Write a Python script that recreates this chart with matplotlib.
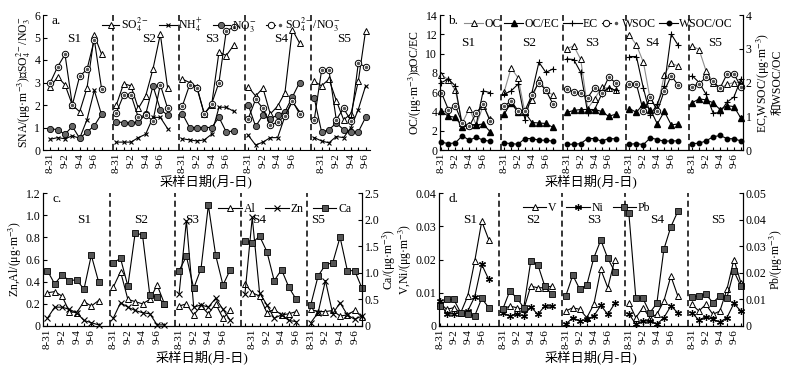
import matplotlib
matplotlib.use('Agg')
import matplotlib.pyplot as plt
from matplotlib.legend_handler import HandlerTuple

plt.rcParams['font.family'] = ['Liberation Serif', 'Noto Sans CJK SC']
plt.rcParams['mathtext.fontset'] = 'stix'
plt.rcParams['font.size'] = 8.5
plt.rcParams['axes.linewidth'] = 0.8
plt.rcParams['xtick.direction'] = 'in'
plt.rcParams['ytick.direction'] = 'in'
plt.rcParams['xtick.major.size'] = 2.5
plt.rcParams['ytick.major.size'] = 3
plt.rcParams['xtick.major.pad'] = 2
plt.rcParams['ytick.major.pad'] = 2

sites = ['S1', 'S2', 'S3', 'S4', 'S5']
date_labels = ['8-31', '9-2', '9-4', '9-6']
xlabel_text = '采样日期(月-日)'

# ---------------- panel a: SNA ----------------
so4 = [[2.8, 3.25, 2.9, 2.0, 1.7, 2.75, 5.1, 4.25],
       [2.0, 2.95, 2.85, 1.85, 2.4, 3.6, 5.15, 2.75],
       [3.15, 3.0, 2.8, 1.6, 2.0, 4.35, 4.2, 4.65],
       [2.8, 2.4, 2.75, 1.6, 1.95, 2.55, 5.35, 4.75],
       [3.05, 2.85, 3.15, 2.2, 1.35, 1.6, 3.05, 5.3]]
nh4 = [[0.48, 0.55, 0.5, 0.63, 0.52, 1.35, 2.65, 1.55],
       [0.35, 0.35, 0.35, 0.55, 0.7, 1.45, 1.45, 0.95],
       [0.5, 0.45, 0.4, 0.45, 0.7, 1.9, 1.9, 1.72],
       [0.65, 0.22, 0.35, 0.55, 0.55, 1.5, 2.15, 1.7],
       [0.55, 0.4, 0.32, 0.6, 0.55, 1.0, 1.8, 2.85]]
no3 = [[0.95, 0.9, 0.7, 1.05, 0.52, 0.8, 1.08, 1.6],
       [1.25, 1.22, 1.2, 1.25, 1.58, 2.85, 1.8, 1.55],
       [1.62, 1.0, 1.0, 1.0, 1.0, 1.45, 0.8, 0.85],
       [2.0, 1.05, 1.55, 1.4, 1.55, 1.7, 2.35, 3.0],
       [2.3, 0.8, 0.9, 1.2, 0.9, 0.8, 0.8, 1.45]]
so4_no3 = [[3.0, 3.7, 4.25, 2.0, 3.28, 3.58, 4.9, 2.7],
           [1.65, 2.45, 2.45, 1.45, 1.55, 1.3, 2.9, 1.85],
           [1.95, 2.9, 2.75, 1.6, 2.05, 3.0, 5.3, 5.45],
           [1.4, 2.25, 1.85, 1.1, 1.25, 1.5, 2.2, 1.6],
           [1.35, 3.55, 3.55, 1.35, 1.85, 1.3, 3.85, 3.7]]

# ---------------- panel b: carbon ----------------
oc = [[7.8, 7.3, 6.2, 2.8, 4.3, 2.6, 4.6, 3.2],
      [6.0, 8.5, 7.5, 3.9, 5.2, 7.4, 6.2, 5.7],
      [10.5, 10.8, 9.4, 4.3, 5.3, 6.5, 6.4, 6.2],
      [11.9, 10.9, 9.1, 5.2, 4.3, 7.8, 9.0, 8.7],
      [10.8, 10.4, 8.2, 7.0, 6.4, 6.8, 7.0, 7.0]]
oc_ec = [[4.0, 3.5, 3.4, 2.4, 2.6, 2.6, 2.7, 1.9],
         [3.7, 4.9, 3.9, 3.9, 2.85, 2.8, 2.75, 2.35],
         [3.9, 4.1, 4.2, 4.2, 4.2, 4.0, 3.5, 3.7],
         [4.3, 3.9, 4.8, 4.2, 2.7, 4.0, 2.6, 2.7],
         [4.9, 5.3, 5.2, 4.9, 4.2, 4.6, 4.5, 3.3]]
ec = [[2.0, 2.1, 1.9, 0.7, 0.75, 0.75, 1.75, 1.7],
      [1.65, 1.75, 1.95, 0.9, 1.7, 2.6, 2.3, 2.4],
      [2.7, 2.68, 2.3, 1.1, 1.2, 1.65, 1.85, 1.77],
      [2.77, 2.77, 1.83, 1.03, 1.37, 1.9, 3.43, 3.1],
      [2.2, 2.0, 1.65, 1.1, 1.1, 1.42, 1.57, 2.1]]
wsoc = [[1.7, 1.2, 1.3, 0.8, 0.7, 1.1, 1.35, 0.85],
        [1.3, 1.45, 1.17, 1.17, 1.63, 2.0, 1.77, 1.37],
        [1.8, 1.72, 1.68, 1.55, 1.85, 1.7, 2.15, 2.0],
        [1.95, 1.95, 1.15, 1.57, 1.15, 1.75, 2.2, 1.92],
        [1.88, 1.97, 2.15, 2.03, 1.83, 2.25, 2.25, 1.88]]
wsoc_oc = [[0.23, 0.19, 0.21, 0.42, 0.29, 0.38, 0.29, 0.26],
           [0.21, 0.19, 0.17, 0.34, 0.34, 0.29, 0.29, 0.26],
           [0.17, 0.17, 0.19, 0.34, 0.34, 0.26, 0.34, 0.33],
           [0.17, 0.19, 0.16, 0.36, 0.31, 0.26, 0.27, 0.27],
           [0.19, 0.2, 0.27, 0.39, 0.43, 0.34, 0.33, 0.27]]

# ---------------- panel c: crustal / Zn ----------------
al = [[0.3, 0.31, 0.27, 0.13, 0.12, 0.22, 0.18, 0.23],
      [0.35, 0.49, 0.24, 0.22, 0.2, 0.24, 0.37, 0.2],
      [0.18, 0.2, 0.1, 0.18, 0.11, 0.2, 0.07, 0.14],
      [0.38, 0.3, 0.27, 0.12, 0.15, 0.1, 0.11, 0.13],
      [0.15, 0.13, 0.13, 0.14, 0.09, 0.1, 0.14, 0.08]]
zn = [[0.07, 0.17, 0.17, 0.15, 0.12, 0.05, 0.03, 0.01],
      [0.07, 0.21, 0.17, 0.14, 0.12, 0.11, 0.01, 0.01],
      [0.29, 0.95, 0.17, 0.19, 0.17, 0.25, 0.15, 0.05],
      [0.29, 0.98, 0.3, 0.19, 0.07, 0.1, 0.05, 0.04],
      [0.03, 0.12, 0.41, 0.11, 0.21, 0.1, 0.06, 0.09]]
ca = [[1.04, 0.79, 0.96, 0.85, 0.87, 0.69, 1.33, 0.83],
      [1.19, 1.27, 0.75, 1.75, 1.71, 0.58, 0.54, 0.42],
      [1.04, 1.31, 0.71, 1.08, 2.27, 1.33, 0.77, 1.06],
      [1.6, 1.56, 1.69, 1.4, 0.85, 1.06, 0.73, 0.5],
      [0.4, 0.94, 1.15, 1.19, 1.67, 1.04, 1.04, 0.71]]

# ---------------- panel d: V, Ni, Pb ----------------
v = [[0.007, 0.005, 0.0055, 0.004, 0.009, 0.0195, 0.0315, 0.026],
     [0.005, 0.006, 0.0055, 0.005, 0.012, 0.0115, 0.0115, 0.012],
     [0.0045, 0.0055, 0.005, 0.0025, 0.0065, 0.017, 0.0115, 0.02],
     [0.007, 0.0025, 0.0055, 0.0025, 0.0035, 0.0075, 0.015, 0.009],
     [0.0065, 0.0045, 0.0065, 0.0035, 0.0045, 0.011, 0.02, 0.013]]
ni = [[0.0075, 0.0035, 0.0037, 0.004, 0.0045, 0.0088, 0.0185, 0.014],
      [0.004, 0.003, 0.0037, 0.003, 0.0058, 0.0035, 0.006, 0.006],
      [0.0005, 0.0025, 0.0015, 0.002, 0.003, 0.0062, 0.0035, 0.0068],
      [0.0037, 0.0005, 0.0015, 0.0015, 0.0005, 0.0025, 0.006, 0.004],
      [0.004, 0.0018, 0.0028, 0.002, 0.0012, 0.0025, 0.0068, 0.0045]]
pb = [[0.0075, 0.01, 0.01, 0.005, 0.0044, 0.0038, 0.0104, 0.0069],
      [0.0063, 0.0131, 0.0106, 0.0069, 0.0244, 0.0231, 0.015, 0.0119],
      [0.0113, 0.0191, 0.0138, 0.0154, 0.0256, 0.0323, 0.0254, 0.0204],
      [0.0425, 0.0106, 0.0104, 0.005, 0.0085, 0.0288, 0.0373, 0.0431],
      [0.011, 0.0113, 0.0119, 0.0088, 0.0113, 0.0106, 0.0206, 0.015]]

SEG = 9
fig = plt.figure(figsize=(7.92, 3.67), dpi=100)
W, H = 792.0, 367.0
LEG_FS = 8.5
LAB_FS = 8.5


def add_ax(l, r, t, b):
    return fig.add_axes([l / W, 1 - b / H, (r - l) / W, (b - t) / H])


def xs_of(s, n, off):
    return [SEG * s + off + k for k in range(n)]


def series(ax, data, off, **kw):
    ln = None
    for s, seg in enumerate(data):
        ln, = ax.plot(xs_of(s, len(seg), off), seg, clip_on=False, **kw)
    return ln


def dotted_circle(ax, data, off, lc='black', ms=4.6):
    ln = series(ax, data, off, color=lc, lw=0.8, marker='o', ms=ms,
                mfc='white', mec='black', mew=0.7)
    dot = series(ax, data, off, ls='none', marker='o', ms=1.5,
                 color='#555555', mec='#555555')
    return (ln, dot)


def setup_x(ax, off, label_start, xlim, s_off, s_y):
    ticks, labels = [], []
    for s in range(5):
        for k in range(8):
            ticks.append(SEG * s + off + k)
            j = (k - label_start[s])
            labels.append(date_labels[j // 2] if (j >= 0 and j % 2 == 0 and j // 2 < 4) else '')
    ax.set_xticks(ticks)
    ax.set_xticklabels(labels, rotation=90, fontsize=8)
    ax.set_xlim(*xlim)
    for s in range(1, 5):
        ax.axvline(SEG * s - 0.5 + off, color='black', lw=1.1, ls=(0, (4, 2.5)), zorder=1)
    for s in range(5):
        ax.text(SEG * s + off + s_off[s], s_y, sites[s], ha='center', va='center',
                fontsize=9.5, transform=ax.get_xaxis_transform())
    ax.set_xlabel(xlabel_text, fontsize=9.5, labelpad=1)
    ax.spines['top'].set_visible(False)


# ===== panel a =====
axa = add_ax(43, 370, 15, 150)
off = 1
h1 = series(axa, so4, off, color='black', lw=0.8, marker='^', ms=5, mfc='white', mec='black', mew=0.7)
h2 = series(axa, nh4, off, color='black', lw=0.8, marker='x', ms=3.5, mew=0.8)
h3 = series(axa, no3, off, color='black', lw=0.8, marker='o', ms=4.5, mfc='#666666', mec='black', mew=0.6)
h4 = dotted_circle(axa, so4_no3, off)
axa.set_ylim(0, 6)
axa.set_yticks(range(0, 7))
axa.spines['right'].set_visible(False)
setup_x(axa, off, [0, 0, 0, 0, 1], (0, 44.6), [3.3, 4.5, 4.0, 4.5, 4.0], 0.82)
axa.set_ylabel('SNA/(μg·m$^{-3}$)和SO$_4^{2-}$/NO$_3^{-}$', fontsize=LAB_FS, labelpad=1)
axa.text(0.025, 1.0, 'a.', transform=axa.transAxes, ha='left', va='top', fontsize=9.5)
axa.legend([h1, h2, h3, h4], ['SO$_4^{2-}$', 'NH$_4^{+}$', 'NO$_3^{-}$', 'SO$_4^{2-}$/NO$_3^{-}$'],
           handler_map={tuple: HandlerTuple(ndivide=None, pad=0)},
           loc='upper left', bbox_to_anchor=(0.165, 1.03), ncol=4, frameon=False,
           handlelength=1.5, handletextpad=0.1, columnspacing=0.9, fontsize=LEG_FS,
           borderaxespad=0)

# ===== panel b =====
axb = add_ax(440, 743, 15, 150)
axb2 = axb.twinx()
off = 0
b1 = series(axb, oc, off, color='#8c8c8c', lw=0.8, marker='^', ms=5, mfc='white', mec='black', mew=0.7)
b2 = series(axb, oc_ec, off, color='black', lw=0.8, marker='^', ms=4.2, mfc='black', mec='black')
b3 = series(axb2, ec, off, color='black', lw=0.8, marker='+', ms=5, mew=0.8)
b4 = dotted_circle(axb2, wsoc, off)
b5 = series(axb2, wsoc_oc, off, color='black', lw=0.8, marker='o', ms=3.2, mfc='black', mec='black')
axb.set_ylim(0, 14)
axb.set_yticks(range(0, 15, 2))
axb2.set_ylim(0, 4)
axb2.set_yticks(range(0, 5))
setup_x(axb, off, [0, 0, 0, 0, 0], (-0.2, 43.3), [3.8, 3.6, 3.6, 3.2, 3.3], 0.79)
axb2.spines['top'].set_visible(False)
axb.set_ylabel('OC/(μg·m$^{-3}$)和OC/EC', fontsize=LAB_FS, labelpad=1)
axb2.set_ylabel('EC,WSOC/(μg·m$^{-3}$)\n和WSOC/OC', fontsize=LAB_FS, labelpad=2, linespacing=1.0)
axb.text(0.025, 1.0, 'b.', transform=axb.transAxes, ha='left', va='top', fontsize=9.5)
axb2.legend([b1, b2, b3, b4, b5], ['OC', 'OC/EC', 'EC', 'WSOC', 'WSOC/OC'],
            handler_map={tuple: HandlerTuple(ndivide=None, pad=0)},
            loc='upper left', bbox_to_anchor=(0.065, 1.01), ncol=5, frameon=False,
            handlelength=1.6, handletextpad=0.1, columnspacing=0.3, fontsize=LEG_FS,
            borderaxespad=0)

# ===== panel c =====
axc = add_ax(43, 362, 193, 326)
axc2 = axc.twinx()
off = 0
c1 = series(axc, al, off, color='black', lw=0.8, marker='^', ms=5, mfc='white', mec='black', mew=0.7)
c2 = series(axc, zn, off, color='black', lw=0.8, marker='x', ms=4, mew=0.8)
c3 = series(axc2, ca, off, color='black', lw=0.8, marker='s', ms=4.2, mfc='#555555', mec='black', mew=0.6)
axc.set_ylim(0, 1.2)
axc.set_yticks([0, 0.2, 0.4, 0.6, 0.8, 1.0, 1.2])
axc.set_yticklabels(['0', '0.2', '0.4', '0.6', '0.8', '1.0', '1.2'])
axc2.set_ylim(0, 2.5)
axc2.set_yticks([0, 0.5, 1.0, 1.5, 2.0, 2.5])
axc2.set_yticklabels(['0', '0.5', '1.0', '1.5', '2.0', '2.5'])
setup_x(axc, off, [0, 0, 0, 1, 0], (-0.6, 43), [5.0, 3.8, 1.8, 2.0, 1.0], 0.80)
axc2.spines['top'].set_visible(False)
axc.set_ylabel('Zn,Al/(μg·m$^{-3}$)', fontsize=LAB_FS, labelpad=1)
axc2.set_ylabel('Ca/(μg·m$^{-3}$)', fontsize=LAB_FS, labelpad=1)
axc.text(0.03, 1.0, 'c.', transform=axc.transAxes, ha='left', va='top', fontsize=9.5)
axc2.legend([c1, c2, c3], ['Al', 'Zn', 'Ca'],
            loc='upper left', bbox_to_anchor=(0.535, 0.96), ncol=3, frameon=False,
            handlelength=2.0, handletextpad=0.15, columnspacing=0.8, fontsize=LEG_FS,
            borderaxespad=0)

# ===== panel d =====
axd = add_ax(439, 743, 193, 326)
axd2 = axd.twinx()
off = 0
d1 = series(axd, v, off, color='black', lw=0.8, marker='^', ms=5, mfc='white', mec='black', mew=0.7)
d2 = series(axd, ni, off, color='black', lw=0.8, marker=(6, 2, 0), ms=5, mew=0.9)
d3 = series(axd2, pb, off, color='black', lw=0.8, marker='s', ms=4.2, mfc='#555555', mec='black', mew=0.6)
axd.set_ylim(0, 0.04)
axd.set_yticks([0, 0.01, 0.02, 0.03, 0.04])
axd.set_yticklabels(['0', '0.01', '0.02', '0.03', '0.04'])
axd2.set_ylim(0, 0.05)
axd2.set_yticks([0, 0.01, 0.02, 0.03, 0.04, 0.05])
axd2.set_yticklabels(['0', '0.01', '0.02', '0.03', '0.04', '0.05'])
setup_x(axd, off, [0, 0, 0, 0, 0], (-0.1, 43.3), [4.4, 4.4, 4.0, 4.0, 3.8], 0.80)
axd2.spines['top'].set_visible(False)
axd.set_ylabel('V,Ni/(μg·m$^{-3}$)', fontsize=LAB_FS, labelpad=1)
axd2.set_ylabel('Pb/(μg·m$^{-3}$)', fontsize=LAB_FS, labelpad=1)
axd.text(0.03, 1.0, 'd.', transform=axd.transAxes, ha='left', va='top', fontsize=9.5)
axd2.legend([d1, d2, d3], ['V', 'Ni', 'Pb'],
            loc='upper left', bbox_to_anchor=(0.26, 0.97), ncol=3, frameon=False,
            handlelength=2.0, handletextpad=0.15, columnspacing=0.8, fontsize=LEG_FS,
            borderaxespad=0)

fig.savefig('out.png', dpi=100)
